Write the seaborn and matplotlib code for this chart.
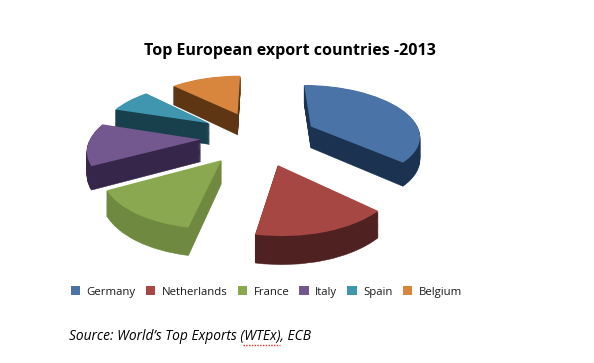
import numpy as np
import matplotlib
matplotlib.use("Agg")
import matplotlib.pyplot as plt
import matplotlib.transforms as mtransforms
from matplotlib.patches import Patch
import seaborn as sns

TITLE = "Top European export countries -2013"
SOURCE = "Source: World\u2019s Top Exports (WTEx), ECB"
countries = ["Germany", "Netherlands", "France", "Italy", "Spain", "Belgium"]
shares = [37.0, 16.0, 14.0, 13.0, 7.5, 12.5]
top_colors = ["#4a74a8", "#a64744", "#8aa84f", "#73578f", "#4096ae", "#d8863e"]
wall_colors = ["#1b3350", "#4f2120", "#6f8a40", "#35264a", "#183f4c", "#5e3614"]
explode = [0.54, 0.54, 0.53, 0.52, 0.54, 0.52]
paint_rank = [2, 5, 6, 4, 3, 1]

sns.set_theme(style="white")
W, H = 594, 363
fig = plt.figure(figsize=(W / 100, H / 100), dpi=100, facecolor="white")
ax = fig.add_axes([0, 0, 1, 1])


class Perspective(mtransforms.Transform):
    input_dims = output_dims = 2

    def __init__(self, p, s, z):
        super().__init__()
        self.p, self.s, self.z = p, s, z

    def transform_non_affine(self, xy):
        xy = np.asarray(xy, float)
        w = 1 + self.p * xy[:, 1]
        return np.column_stack([xy[:, 0] / w, (xy[:, 1] * self.s - self.z) / w])


P, S, DEPTH = 0.15, 0.46, 0.20
LAYERS = 24
for k in range(LAYERS, -1, -1):
    colors = top_colors if k == 0 else wall_colors
    wedges, _ = ax.pie(shares, explode=explode, startangle=90, counterclock=False,
                       colors=colors, radius=1.0, frame=True,
                       wedgeprops=dict(linewidth=0.4 if k else 0))
    tr = Perspective(P, S, DEPTH * k / LAYERS)
    for i, wd in enumerate(wedges):
        wd.set_transform(tr + ax.transData)
        wd.set_edgecolor(colors[i])
        wd.set_zorder(paint_rank[i] * 10 + (LAYERS - k) / LAYERS)

# data units: one unit = 110 px horizontally, centre at pixel (258, 137)
cx, cy, R = 258, 137, 110
ax.set_aspect("auto")
ax.set_xlim(-cx / R, (W - cx) / R)
ax.set_ylim(-(H - cy) / R, cy / R)
ax.axis("off")

fig.text(290 / W, 1 - 51 / H, TITLE, ha="center", va="center",
         fontfamily="Open Sans", fontweight="bold", fontsize=11.5, color="black")

leg_handles = [Patch(facecolor=c, edgecolor="none") for c in top_colors]
fig.legend(leg_handles, countries, ncols=6, loc="center left",
           bbox_to_anchor=(65 / W, 1 - 292 / H), frameon=False,
           prop=dict(family="Open Sans", size=8.2), handlelength=0.85,
           handleheight=0.85, handletextpad=0.55, columnspacing=0.88,
           borderpad=0, labelcolor="#1a1a1a")

fig.text(69 / W, 1 - 337 / H, SOURCE, ha="left", va="center", fontfamily="Open Sans",
         fontstyle="italic", fontsize=9.9, color="black")
fig.add_artist(plt.Line2D([243 / W, 280 / W], [1 - 345 / H] * 2, color="#d83030",
                          lw=1.0, ls=(0, (1, 1)), transform=fig.transFigure))

fig.savefig("out.png", dpi=100, facecolor="white")
